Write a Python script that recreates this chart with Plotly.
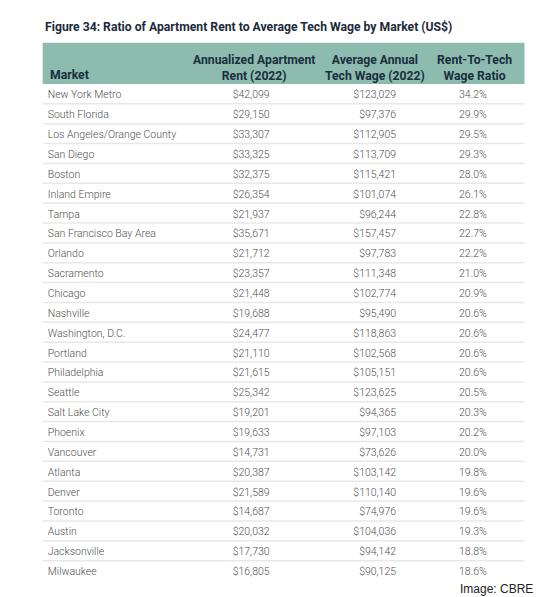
import plotly.graph_objects as go

markets = ["New York Metro", "South Florida", "Los Angeles/Orange County", "San Diego", "Boston",
           "Inland Empire", "Tampa", "San Francisco Bay Area", "Orlando", "Sacramento", "Chicago",
           "Nashville", "Washington, D.C.", "Portland", "Philadelphia", "Seattle", "Salt Lake City",
           "Phoenix", "Vancouver", "Atlanta", "Denver", "Toronto", "Austin", "Jacksonville", "Milwaukee"]
rent = [42099, 29150, 33307, 33325, 32375, 26354, 21937, 35671, 21712, 23357, 21448, 19688, 24477,
        21110, 21615, 25342, 19201, 19633, 14731, 20387, 21589, 14687, 20032, 17730, 16805]
wage = [123029, 97376, 112905, 113709, 115421, 101074, 96244, 157457, 97783, 111348, 102774, 95490,
        118863, 102568, 105151, 123625, 94365, 97103, 73626, 103142, 110140, 74976, 104036, 94142, 90125]
ratio = [34.2, 29.9, 29.5, 29.3, 28.0, 26.1, 22.8, 22.7, 22.2, 21.0, 20.9, 20.6, 20.6, 20.6, 20.6,
         20.5, 20.3, 20.2, 20.0, 19.8, 19.6, 19.6, 19.3, 18.8, 18.6]
headers = ["Market", "Annualized Apartment<br>Rent (2022)",
           "Average Annual<br>Tech Wage (2022)", "Rent-To-Tech<br>Wage Ratio"]
title = "Figure 34: Ratio of Apartment Rent to Average Tech Wage by Market (US$)"
credit = "Image: CBRE"

W, H = 540, 597

def fx(px):
    return px / W

def fy(px):
    return 1 - px / H

# layout geometry (pixels)
box_left, box_right = 42.7, 524.5
top = 42.7
header_h = 41.3
row_h = 19.86
n = len(markets)
body_top = top + header_h
text_shift = 1.5  # lifts the table text slightly within each row
bottom = body_top + n * row_h + 2
# column edges for the body text (right-aligned numbers end at the edge minus cell padding)
col_edges = [39.7, 200, 278, 404.7, 495.5, box_right]
widths = [col_edges[i + 1] - col_edges[i] for i in range(len(col_edges) - 1)]
header_centers = [None, 254, 375, 474.6]

fig = go.Figure(go.Table(
    domain=dict(x=[fx(col_edges[0]), fx(col_edges[-1])], y=[fy(bottom), fy(top - text_shift)]),
    columnwidth=widths,
    header=dict(values=[""] * len(widths), fill_color="rgba(0,0,0,0)",
                line=dict(color="rgba(0,0,0,0)", width=1), height=header_h),
    cells=dict(values=[markets, rent, wage, ratio, [""] * n],
               format=["", ",.0f", ",.0f", ".1f", ""],
               prefix=["", "$", "$", "", ""],
               suffix=["", "", "", "%", ""],
               align=["left", "right", "right", "right", "right"],
               fill_color="rgba(0,0,0,0)", line=dict(color="rgba(0,0,0,0)", width=1),
               font=dict(family="Roboto", size=10.5, color="#4f4f4f", weight=300), height=row_h),
))

# header band
fig.add_shape(type="rect", xref="paper", yref="paper", x0=fx(box_left), x1=fx(box_right),
              y0=fy(body_top), y1=fy(top), fillcolor="#8dbcae", line=dict(width=0), layer="below")
# row separators
for i in range(1, n):
    y = body_top + i * row_h
    fig.add_shape(type="line", xref="paper", yref="paper", x0=fx(box_left), x1=fx(box_right),
                  y0=fy(y), y1=fy(y), line=dict(color="#e8e8e8", width=1.5), layer="below")

hfont = dict(family="Roboto", size=12.2, color="#1a2e40")
fig.add_annotation(text="<b>" + headers[0] + "</b>", x=fx(47.7), y=fy(75), xref="paper", yref="paper",
                   xanchor="left", yanchor="middle", showarrow=False, font=hfont)
for htxt, cx in zip(headers[1:], header_centers[1:]):
    fig.add_annotation(text="<b>" + htxt + "</b>", x=fx(cx), y=fy(67.5), xref="paper", yref="paper",
                       xanchor="center", yanchor="middle", align="center", showarrow=False, font=hfont)

fig.add_annotation(text="<b>" + title + "</b>", x=fx(43.3), y=fy(27.5), xref="paper", yref="paper",
                   xanchor="left", yanchor="middle", showarrow=False,
                   font=dict(family="Roboto", size=12.2, color="#1b2b3b"))
fig.add_annotation(text=credit, x=fx(535), y=fy(589), xref="paper", yref="paper",
                   xanchor="right", yanchor="middle", showarrow=False,
                   font=dict(family="Liberation Sans", size=12, color="#222222"))

fig.update_layout(width=W, height=H, margin=dict(l=0, r=0, t=0, b=0),
                  paper_bgcolor="white", plot_bgcolor="white")
fig.write_html("out.html", config={"displayModeBar": False},
               post_script="document.body.style.margin='0px';")
